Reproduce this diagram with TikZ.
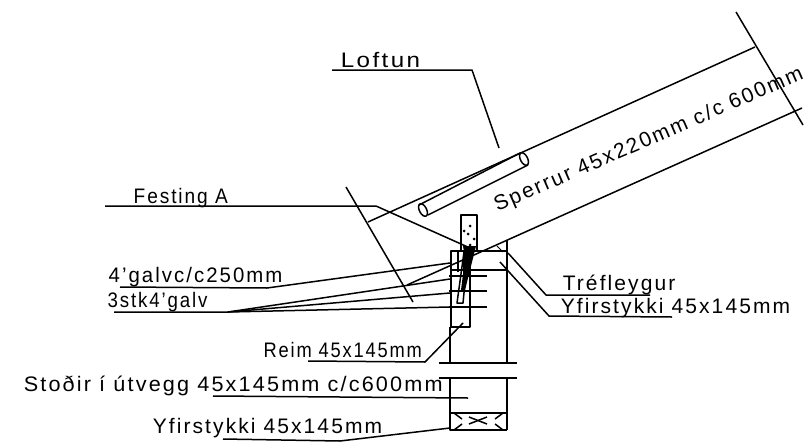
\documentclass[tikz,border=0pt]{standalone}
\usepackage{fontspec}
\setmainfont[LetterSpace=10]{Liberation Sans}
\begin{document}
\begin{tikzpicture}[x=1pt,y=-1pt,line width=1.5pt,line join=round,
  lbl/.style={anchor=base west,inner sep=0pt,font=\fontsize{21}{23}\selectfont},
  thin line/.style={line width=1pt},
  speck/.style={fill=black,draw=none,circle,inner sep=0pt,minimum size=3pt}]
\useasboundingbox (0,0) rectangle (810,444);
% labels
\node[lbl,xscale=1.15] (loftun) at (340,67) {Loftun};
\node[lbl,xscale=.91] (festing) at (133,203) {Festing A};
\node[lbl,xscale=.97] (galva) at (108,282) {4'galvc/c250mm};
\node[lbl,xscale=.89] (galvb) at (107,307) {3stk4'galv};
\node[lbl] (trefl) at (562,290) {Tréfleygur};
\node[lbl] (yfira) at (560,313) {Yfirstykki 45x145mm};
\node[lbl,xscale=.87] (reim) at (263,357) {Reim 45x145mm};
\node[lbl,xscale=1.03] (stodir) at (23,391) {Stoðir í útvegg 45x145mm c/c600mm};
\node[lbl] (yfirb) at (152,433) {Yfirstykki 45x145mm};
\node[lbl,rotate=23.5] (sperrur) at (497,212) {Sperrur 45x220mm c/c 600mm};
% rafter
\coordinate (rtA) at (368,222); \coordinate (rtB) at (755,47);
\coordinate (rbA) at (407,285); \coordinate (rbB) at (802,108);
\coordinate (endA) at (736,12); \coordinate (endB) at (803,125);
\draw (rtA) -- (rtB);
\draw (rbA) -- (rbB);
\draw (endA) -- (endB);
% ventilation slot
\draw (419,205) -- (520,153);
\draw (428,215) -- (528,165);
\draw[rotate around={27:(423,210)}] (423,210) ellipse (3.6 and 6.8);
\draw[rotate around={27:(524,159)}] (524,159) ellipse (3.6 and 6.8);
% section line
\coordinate (secA) at (346,187); \coordinate (secB) at (413,302);
\draw (secA) -- (secB);
% top block
\draw (461,250) -- (461,215) -- (477,215) -- (477,250);
\foreach \p/\q in {470/226,464/231,468/234,474/239,470/245}
  \node[speck] at (\p,\q) {};
% strap
\draw (451,327) -- (451,251) -- (507,251);
\draw (470,251) -- (470,327) -- (451,327);
\draw (458,251) -- (458,272);
\draw (464,251) -- (464,272);
% wedge
\draw[thin line] (497,246) -- (503,252);
% wall
\draw (507,240) -- (507,363);
\draw (507,378) -- (507,430);
\draw (450,327) -- (450,363);
\draw (450,378) -- (450,430) -- (507,430);
\draw (451,270) -- (507,270);
\draw (449,276) -- (487,276);
\draw (449,291) -- (487,291);
\draw (449,307) -- (487,307);
\draw (439,363) -- (517,363);
\draw (439,378) -- (517,378);
% nail
\draw (468,252) -- (463,303) -- (457,303) -- (464,252);
\fill (463,246) -- (476,246) -- (473,258) -- (465,290) -- (461,290) -- (465,258) -- cycle;
% lower plate
\draw (450,413) -- (507,413);
\draw (454,413) -- (462,419);
\draw (503,413) -- (495,419);
\draw (454,430) -- (462,424);
\draw (503,430) -- (495,424);
\draw (469,417) -- (487,424);
\draw (469,424) -- (487,417);
% leaders
\draw (332,70) -- (472,70) -- (499,148);
\draw (105,206) -- (376,206) -- (470,248);
\draw (120,287) -- (267,288) -- (450,263);
\draw (114,312) -- (228,312) -- (450,279);
\draw (228,312) -- (450,293);
\draw (228,312) -- (450,307);
\draw (508,253) -- (546,295) -- (650,295);
\draw (500,262) -- (549,316) -- (672,317);
\draw (308,361) -- (425,362) -- (463,323);
\draw (213,396) -- (468,398);
\draw (223,439) -- (340,441) -- (450,428);
\end{tikzpicture}
\end{document}
